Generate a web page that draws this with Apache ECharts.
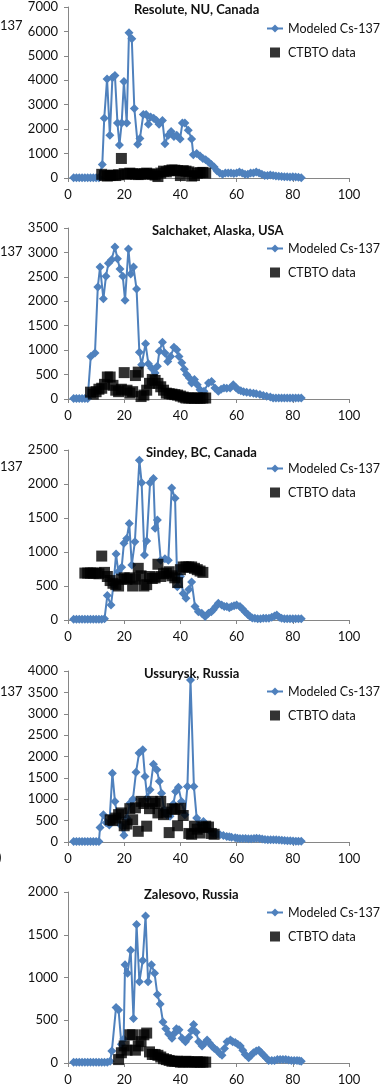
<!DOCTYPE html>
<html>
<head>
<meta charset="utf-8">
<script src="https://cdn.jsdelivr.net/npm/echarts@6/dist/echarts.min.js"></script>
<style>
html,body{margin:0;padding:0;background:#fff;}
#chart{width:385px;height:1088px;}
</style>
</head>
<body>
<div id="chart"></div>
<script>
// ---------- DATA ----------
const panelTitles = ['Resolute, NU, Canada', 'Salchaket, Alaska, USA', 'Sindey, BC, Canada', 'Ussurysk, Russia', 'Zalesovo, Russia'];
const yMax = [7000, 3500, 2500, 4000, 2000];
const yStep = [1000, 500, 500, 500, 500];
const xTicks = [0, 20, 40, 60, 80, 100];
const seriesNames = ['Modeled Cs-137', 'CTBTO data'];

const resoluteModel = [[2,10],[3,10],[4,10],[5,10],[6,10],[7,10],[8,10],[9,10],[10,10],[11,10],
[12.2,550],[12.9,2450],[13.9,4050],[14.9,1750],[15.8,4100],[16.7,4200],[17.6,2250],[18.3,1350],[19.1,2250],[19.9,3950],
[20.9,2250],[21.7,5950],[22.7,5700],[23.6,2850],[24.8,1380],[25.6,1620],[26.8,2600],[27.8,2600],[28.6,2200],[29.4,2500],
[30.5,2450],[31.5,2350],[32.4,2200],[33.6,2350],[34.5,1400],[35.7,1750],[36.7,1900],[37.7,1700],[38.7,1750],[39.9,1600],
[40.7,2250],[41.6,2250],[42.8,1950],[44,1600],[44.6,950],[45.8,1000],
[47,900],[48,800],[49,750],[50,650],[51,550],[52,450],[53,300],[54,200],[55,150],[56,200],[57,200],[58,200],[59,180],[60,200],
[61,250],[62,200],[63,150],[64,150],[65,200],[66,200],[67,250],[68,200],[69,150],[70,100],[71,100],[72,120],[73,100],[74,80],
[75,70],[76,60],[77,50],[78,50],[79,40],[80,50],[81,40],[82,30],[83,10]];
const resoluteCTBTO = [[12,150],[13,100],[14,80],[15,100],[16,120],[17,100],[18,130],[19,800],[20,180],[21,150],[22,200],[23,180],
[24,160],[25,140],[26,150],[27,180],[28,200],[29,170],[30,150],[31,120],[32,60],[33,200],[34,280],[35,250],[36,300],[37,330],
[38,320],[39,300],[40,100],[41,300],[42,280],[43,250],[44,80],[45,100],[46,200],[47,220],[48,230],[49,200]];

const salchaketModel = [[2,10],[3,10],[4,10],[5,10],[6,10],[7,10],[8.1,870],[9.6,940],[10.6,2290],[11.4,2700],[12.6,2050],[13.5,2510],
[14.4,2780],[15.5,2850],[16.7,3110],[17.6,2870],[18.5,2660],[19.5,2510],[20.3,2020],[21.5,3070],[22.3,2560],[23.3,2700],[24.4,2250],
[25.4,955],[26.2,700],[27.6,1130],[28.6,720],[29.8,630],[31,530],[31.8,670],[32.5,975],[33.6,1160],[34.5,940],[35.5,770],[36.5,870],
[37.7,1060],[38.7,1010],[39.5,870],[40.5,740],[41.4,610],[42.2,500],[43.2,430],[44,330],[45,400],[46,290],[47,190],[48.4,160],
[50,330],[51.1,360],[52.3,225],[53.5,160],[54.5,200],[55.5,225],[56.5,220],[57.7,225],[58.8,290],[59.8,230],[60.6,190],[61.5,170],
[62.5,150],[63.6,140],[64.8,130],[66,120],[67,110],[68.3,90],[69.5,70],[70.7,55],[72,40],[73,20],[74,20],[75,20],[76,20],[77,20],
[78,20],[79,20],[80,20],[81,20],[82,20],[83,20]];
const salchaketCTBTO = [[8,140],[9,100],[10,150],[11,200],[12,220],[13,300],[14,450],[15,450],[16,280],[17,180],[18,150],[19,200],
[20,540],[21,180],[22,120],[23,150],[24,480],[25,550],[26,50],[27,80],[28,180],[29,320],[30,400],[31,380],[32,320],[33,250],[34,180],
[35,120],[36,110],[37,100],[38,90],[39,80],[40,60],[41,40],[42,20],[43,20],[44,20],[45,15],[46,20],[47,15],[48,20],[49,20]];

const sindeyModel = [[2,10],[3,10],[4,10],[5,10],[6,10],[7,10],[8,10],[9,10],[10,10],[11,10],[12,10],[13,20],[14,360],[15.3,220],
[16.2,520],[17.1,970],[17.9,710],[19.1,775],[19.9,1130],[20.9,1200],[21.8,1420],[22.7,810],[23.8,1150],[25.4,2350],[26.2,2020],
[27.2,955],[28,1160],[29.2,2020],[30.4,2080],[31,1350],[31.8,1470],[33,880],[34.5,900],[35.7,880],[36.9,1940],[38.1,1790],[38.9,490],
[40,640],[41,390],[42,320],[43,450],[44,560],[45.2,200],[46.4,120],[47.6,100],[48.8,50],[50,100],[51,120],[51.7,150],[52.6,200],
[53.5,245],[54.7,220],[55.6,200],[56.5,200],[57.4,180],[58.2,200],[59.1,210],[60,220],[61.2,200],[62.1,160],[63,120],[64,80],
[64.8,50],[65.6,30],[66.5,25],[67.5,20],[68.5,20],[69.5,25],[70.5,25],[71.5,25],[72.5,40],[73.5,60],[74.3,75],[75.2,40],[76,25],
[77,20],[78,20],[79,20],[80,20],[81,20],[82,20],[83,20]];
const sindeyCTBTO = [[6,690],[7,690],[8,690],[9,690],[10,690],[11,680],[12,940],[13,700],[14,640],[15,580],[16,540],[17,520],[18,500],
[19,600],[20,620],[21,600],[22,620],[23,500],[24,600],[25,760],[26,650],[27,500],[28,520],[29,640],[30,610],[31,620],[32,820],
[33,640],[34,680],[35,690],[36,710],[37,650],[38,620],[39,550],[40,740],[41,780],[42,780],[43,780],[44,780],[45,760],[46,740],
[47,720],[48,700]];

const ussuryskModel = [[2,10],[3,10],[4,10],[5,10],[6,10],[7,10],[8,10],[9,10],[10,10],[11,10],[11.4,340],[12.6,640],[13.6,450],
[14.7,400],[15.8,1610],[16.7,950],[17.7,560],[18.7,400],[19.9,155],[20.9,560],[22.1,910],[23.1,1000],[24.2,1630],[25.3,2080],
[26.6,2160],[27.4,1530],[28.2,1030],[29.2,1220],[30.4,1820],[31.6,1690],[32.5,1420],[33.3,1140],[34.2,750],[35.1,640],[36.3,600],
[37.5,890],[38.3,1180],[39.3,1280],[40.4,950],[41.6,640],[42.5,1300],[43.6,3790],[44.8,1300],[45.8,560],[46.8,440],[48.2,480],
[49.2,400],[50,290],[51,230],[51.7,210],[53,190],[54.1,170],[55.3,150],[56.5,130],[57.4,120],[58.2,110],[59.5,100],[60.3,90],
[61.2,80],[62.2,80],[63.2,80],[64.2,75],[65.2,75],[66.2,80],[67.1,90],[68.1,80],[69.1,70],[70.1,60],[71.1,55],[72.1,55],[73.1,55],
[74.1,50],[75.1,45],[76.1,40],[77.1,35],[78.1,30],[79.1,30],[80.1,25],[81.1,20],[82,15],[83,15]];
const ussuryskCTBTO = [[15,520],[16,500],[17,560],[18,640],[19,680],[20,380],[21,420],[22,780],[23,520],[24,800],[25,250],[26,950],
[27,900],[28,370],[29,780],[30,950],[31,900],[32,680],[33,950],[34,640],[35,700],[36,220],[37,780],[38,760],[39,380],[40,790],
[41,620],[43,200],[44,180],[45,370],[46,300],[47,210],[48,340],[49,370],[50,350],[51,200],[52,180]];

const zalesovoModel = [[2,10],[3,10],[4,10],[5,10],[6,10],[7,10],[8,10],[9,10],[10,10],[11,10],[12,10],[13,10],[14,10],[15,20],
[15.6,140],[17.1,650],[18,620],[19,220],[19.8,280],[20.3,1150],[21.2,1050],[22.3,1320],[23.3,520],[24.4,1620],[25.4,950],[26.6,1200],
[27.6,1720],[28.5,950],[29.7,1150],[30.8,1050],[31.8,800],[32.8,690],[33.8,480],[34.8,400],[35.8,340],[37,290],[38,350],[38.6,400],
[39.5,390],[40.6,290],[41.8,250],[43,300],[44,380],[44.7,450],[45.6,360],[46.5,250],[47.7,200],[48.6,230],[49.5,270],[50.4,230],
[51.2,200],[52.1,170],[53,150],[54,110],[54.8,90],[55.7,170],[56.6,250],[57.8,270],[58.6,250],[59.5,240],[60.4,220],[61.3,200],
[62.2,150],[63.1,100],[64.3,60],[65.2,90],[66,120],[67,140],[67.9,150],[68.8,120],[69.6,90],[70.5,60],[71.4,30],[72.5,30],[73.5,30],
[74.5,40],[75.5,40],[76.5,40],[77.5,40],[78.5,35],[79.5,30],[80.5,30],[81.5,30],[82.3,25],[83,20]];
const zalesovoCTBTO = [[18,40],[19,120],[20,200],[21,150],[22,330],[23,330],[24,150],[25,200],[26,250],[27,330],[28,350],[29,130],
[30,100],[31,100],[32,90],[33,70],[34,50],[35,40],[36,30],[37,20],[38,20],[39,20],[40,10],[41,10],[42,20],[43,15],[44,10],[45,10],
[46,15],[47,10],[48,10],[49,10]];

const modelSets = [resoluteModel, salchaketModel, sindeyModel, ussuryskModel, zalesovoModel];
const ctbtoSets = [resoluteCTBTO, salchaketCTBTO, sindeyCTBTO, ussuryskCTBTO, zalesovoCTBTO];

// ---------- LAYOUT ----------
const gridTops = [7, 228, 450, 671, 892];
const gridHeights = [171, 171, 170, 171, 171];
const titleLefts = [134, 152, 146, 144, 144];
const legendTops = [22, 242, 462, 685, 906];
const yTitleTops = [19, 245, 460, 685];

const FONT = 'Lato, "Open Sans", sans-serif';
const BLUE = '#4F81BD';
const AXIS = '#868686';
// square centred inside a 16x10 icon box (degenerate sub-paths only fix the bounding box)
const SQUARE_ICON = 'path://M0,0L16,0L0,0Z M3,0L13,0L13,10L3,10Z M0,10L16,10L0,10Z';

const option = {
  animation: false,
  backgroundColor: '#ffffff',
  title: [], grid: [], xAxis: [], yAxis: [], legend: [], series: [],
  graphic: []
};

for (let i = 0; i < 5; i++) {
  option.grid.push({ left: 68, right: 36, top: gridTops[i], height: gridHeights[i], containLabel: false });
  option.title.push({
    text: panelTitles[i], left: titleLefts[i], top: gridTops[i] - 4, padding: 0,
    textStyle: { fontSize: 13, fontWeight: 'bold', fontFamily: FONT, color: '#111' }
  });
  option.xAxis.push({
    type: 'value', gridIndex: i, min: xTicks[0], max: xTicks[xTicks.length - 1], interval: 20,
    axisLine: { show: true, onZero: false, lineStyle: { color: AXIS, width: 1 } },
    axisTick: { show: true, inside: false, length: 4, lineStyle: { color: AXIS } },
    splitLine: { show: false },
    axisLabel: { fontSize: 13, fontFamily: FONT, color: '#111', margin: 10 }
  });
  option.yAxis.push({
    type: 'value', gridIndex: i, min: 0, max: yMax[i], interval: yStep[i],
    axisLine: { show: true, lineStyle: { color: AXIS, width: 1 } },
    axisTick: { show: true, inside: false, length: 4, lineStyle: { color: AXIS } },
    splitLine: { show: false },
    axisLabel: { fontSize: 13, fontFamily: FONT, color: '#111', margin: 10, formatter: (v) => String(v) }
  });
  option.legend.push({
    left: 266, top: legendTops[i], orient: 'vertical', itemWidth: 16, itemHeight: 10, itemGap: 11,
    padding: 0, selectedMode: false,
    textStyle: { fontSize: 12.5, fontFamily: FONT, color: '#111' },
    data: [
      { name: seriesNames[0] },
      { name: seriesNames[1], icon: SQUARE_ICON, itemStyle: { color: '#000' } }
    ]
  });
  option.series.push({
    type: 'line', name: seriesNames[0], xAxisIndex: i, yAxisIndex: i,
    data: modelSets[i], symbol: 'diamond', symbolSize: 9, showAllSymbol: true,
    lineStyle: { color: BLUE, width: 2 }, itemStyle: { color: BLUE }, z: 2
  });
  option.series.push({
    type: 'scatter', name: seriesNames[1], xAxisIndex: i, yAxisIndex: i,
    data: ctbtoSets[i], symbol: 'rect', symbolSize: 11,
    itemStyle: { color: '#000' }, z: 3
  });
}
for (let i = 0; i < yTitleTops.length; i++) {
  option.graphic.push({ type: 'text', left: 0, top: yTitleTops[i], style: { text: '137', font: '13px ' + FONT, fill: '#111' } });
}
option.graphic.push({ type: 'text', left: -2, top: 851, style: { text: ')', font: '13px ' + FONT, fill: '#111' } });

const chart = echarts.init(document.getElementById('chart'), null, { renderer: 'canvas' });
chart.setOption(option);
</script>
</body>
</html>
